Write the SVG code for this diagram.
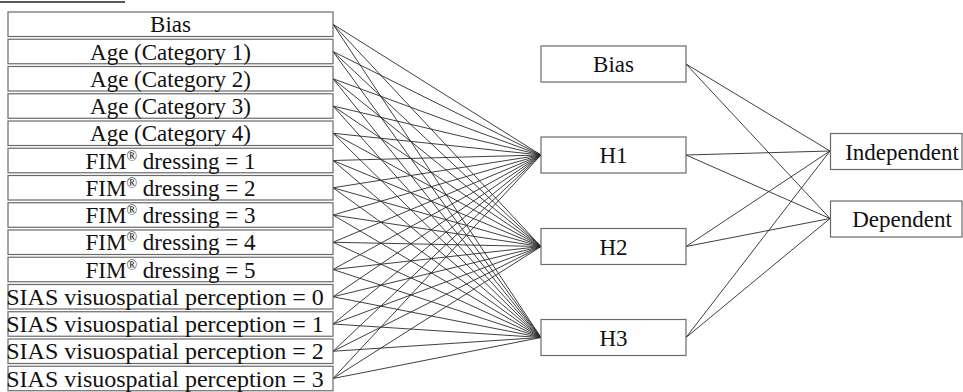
<svg xmlns="http://www.w3.org/2000/svg" width="963" height="392" viewBox="0 0 963 392">
<style>
.box{fill:#fff;stroke:#6a6a6a;stroke-width:1.2}
.t{font-family:"Liberation Serif","Times New Roman",serif;font-size:23px;fill:#111;text-anchor:middle}
.s{font-size:24px}
.sup{font-size:14px}
.c line{stroke:#2a2a2a;stroke-width:0.9}
</style>
<rect width="963" height="392" fill="#fff"/>
<line x1="0" y1="2" x2="125" y2="2" stroke="#222" stroke-width="1.5"/>
<g class="c" id="connectors">
<line x1="333" y1="24.25" x2="541" y2="155"/><line x1="333" y1="51.5" x2="541" y2="155"/><line x1="333" y1="78.75" x2="541" y2="155"/><line x1="333" y1="106" x2="541" y2="155"/><line x1="333" y1="133.25" x2="541" y2="155"/><line x1="333" y1="160.5" x2="541" y2="155"/><line x1="333" y1="187.75" x2="541" y2="155"/><line x1="333" y1="215" x2="541" y2="155"/><line x1="333" y1="242.25" x2="541" y2="155"/><line x1="333" y1="269.5" x2="541" y2="155"/><line x1="333" y1="296.75" x2="541" y2="155"/><line x1="333" y1="324" x2="541" y2="155"/><line x1="333" y1="351.25" x2="541" y2="155"/><line x1="333" y1="378.5" x2="541" y2="155"/>
<line x1="333" y1="24.25" x2="541" y2="246.5"/><line x1="333" y1="51.5" x2="541" y2="246.5"/><line x1="333" y1="78.75" x2="541" y2="246.5"/><line x1="333" y1="106" x2="541" y2="246.5"/><line x1="333" y1="133.25" x2="541" y2="246.5"/><line x1="333" y1="160.5" x2="541" y2="246.5"/><line x1="333" y1="187.75" x2="541" y2="246.5"/><line x1="333" y1="215" x2="541" y2="246.5"/><line x1="333" y1="242.25" x2="541" y2="246.5"/><line x1="333" y1="269.5" x2="541" y2="246.5"/><line x1="333" y1="296.75" x2="541" y2="246.5"/><line x1="333" y1="324" x2="541" y2="246.5"/><line x1="333" y1="351.25" x2="541" y2="246.5"/><line x1="333" y1="378.5" x2="541" y2="246.5"/>
<line x1="333" y1="24.25" x2="541" y2="337.5"/><line x1="333" y1="51.5" x2="541" y2="337.5"/><line x1="333" y1="78.75" x2="541" y2="337.5"/><line x1="333" y1="106" x2="541" y2="337.5"/><line x1="333" y1="133.25" x2="541" y2="337.5"/><line x1="333" y1="160.5" x2="541" y2="337.5"/><line x1="333" y1="187.75" x2="541" y2="337.5"/><line x1="333" y1="215" x2="541" y2="337.5"/><line x1="333" y1="242.25" x2="541" y2="337.5"/><line x1="333" y1="269.5" x2="541" y2="337.5"/><line x1="333" y1="296.75" x2="541" y2="337.5"/><line x1="333" y1="324" x2="541" y2="337.5"/><line x1="333" y1="351.25" x2="541" y2="337.5"/><line x1="333" y1="378.5" x2="541" y2="337.5"/>
<line x1="686" y1="64" x2="830" y2="151"/><line x1="686" y1="64" x2="830" y2="218.5"/>
<line x1="686" y1="155" x2="830" y2="151"/><line x1="686" y1="155" x2="830" y2="218.5"/>
<line x1="686" y1="246.5" x2="830" y2="151"/><line x1="686" y1="246.5" x2="830" y2="218.5"/>
<line x1="686" y1="337.5" x2="830" y2="151"/><line x1="686" y1="337.5" x2="830" y2="218.5"/>
</g>
<g id="in-bias"><rect class="box" x="8" y="12" width="325" height="24.5"/><text class="t" x="170.5" y="32.25">Bias</text></g>
<g id="in-age1"><rect class="box" x="8" y="39.25" width="325" height="24.5"/><text class="t" x="170.5" y="59.5">Age (Category 1)</text></g>
<g id="in-age2"><rect class="box" x="8" y="66.5" width="325" height="24.5"/><text class="t" x="170.5" y="86.75">Age (Category 2)</text></g>
<g id="in-age3"><rect class="box" x="8" y="93.75" width="325" height="24.5"/><text class="t" x="170.5" y="114">Age (Category 3)</text></g>
<g id="in-age4"><rect class="box" x="8" y="121" width="325" height="24.5"/><text class="t" x="170.5" y="141.25">Age (Category 4)</text></g>
<g id="in-fim1"><rect class="box" x="8" y="148.25" width="325" height="24.5"/><text class="t" x="170.5" y="168.5">FIM<tspan class="sup" dy="-8">®</tspan><tspan dy="8"> dressing = 1</tspan></text></g>
<g id="in-fim2"><rect class="box" x="8" y="175.5" width="325" height="24.5"/><text class="t" x="170.5" y="195.75">FIM<tspan class="sup" dy="-8">®</tspan><tspan dy="8"> dressing = 2</tspan></text></g>
<g id="in-fim3"><rect class="box" x="8" y="202.75" width="325" height="24.5"/><text class="t" x="170.5" y="223">FIM<tspan class="sup" dy="-8">®</tspan><tspan dy="8"> dressing = 3</tspan></text></g>
<g id="in-fim4"><rect class="box" x="8" y="230" width="325" height="24.5"/><text class="t" x="170.5" y="250.25">FIM<tspan class="sup" dy="-8">®</tspan><tspan dy="8"> dressing = 4</tspan></text></g>
<g id="in-fim5"><rect class="box" x="8" y="257.25" width="325" height="24.5"/><text class="t" x="170.5" y="277.5">FIM<tspan class="sup" dy="-8">®</tspan><tspan dy="8"> dressing = 5</tspan></text></g>
<g id="in-sias0"><rect class="box" x="8" y="284.5" width="325" height="24.5"/><text class="t s" x="165" y="304.75">SIAS visuospatial perception = 0</text></g>
<g id="in-sias1"><rect class="box" x="8" y="311.75" width="325" height="24.5"/><text class="t s" x="165" y="332">SIAS visuospatial perception = 1</text></g>
<g id="in-sias2"><rect class="box" x="8" y="339" width="325" height="24.5"/><text class="t s" x="165" y="359.25">SIAS visuospatial perception = 2</text></g>
<g id="in-sias3"><rect class="box" x="8" y="366.25" width="325" height="24.5"/><text class="t s" x="165" y="386.5">SIAS visuospatial perception = 3</text></g>
<g id="h-bias"><rect class="box" x="541" y="46" width="145" height="36"/><text class="t" x="613.5" y="72">Bias</text></g>
<g id="h1"><rect class="box" x="541" y="137" width="145" height="36"/><text class="t" x="613.5" y="163">H1</text></g>
<g id="h2"><rect class="box" x="541" y="228.5" width="145" height="36"/><text class="t" x="613.5" y="254.5">H2</text></g>
<g id="h3"><rect class="box" x="541" y="319.5" width="145" height="36"/><text class="t" x="613.5" y="345.5">H3</text></g>
<g id="out-independent"><rect class="box" x="830.5" y="133.5" width="131.5" height="36"/><text class="t" x="902" y="159.5">Independent</text></g>
<g id="out-dependent"><rect class="box" x="830.5" y="201" width="131.5" height="36"/><text class="t" x="902" y="227">Dependent</text></g>
</svg>
